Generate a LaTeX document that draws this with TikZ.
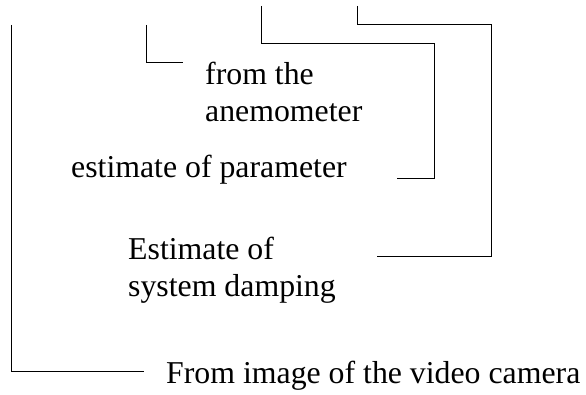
\documentclass[tikz,border=0pt]{standalone}
\usepackage{fontspec}
\setmainfont{Liberation Serif}
\usepackage{tikz}
\usetikzlibrary{calc}

\begin{document}
\begin{tikzpicture}[x=1pt, y=1pt,
		lbl/.style = {anchor=base west, inner sep=0pt, align=left,
			font=\fontsize{31.8}{37}\selectfont},
		wire/.style = {line width=1pt}]
			\def\W{586};
			\def\H{394};

			\useasboundingbox (0,0) rectangle (\W,\H);

			% labels (base = baseline of the last line)
			\node [lbl] (cam) at (166,11) {From image of the video camera};
			\node [lbl] (anemo) at (205,272) {from the\\anemometer};
			\node [lbl] (param) at (71,216) {estimate of parameter};
			\node [lbl] (damp) at (128,98) {Estimate of\\system damping};

			% open ends of the wires
			\coordinate (camIn) at (11,369);
			\coordinate (camOut) at (144,23);
			\coordinate (anemoIn) at (146,369);
			\coordinate (anemoOut) at (183,331);
			\coordinate (paramIn) at (261,388);
			\coordinate (paramOut) at (397,215);
			\coordinate (dampIn) at (357,388);
			\coordinate (dampOut) at (377,138);

			\begin{scope}[wire]
				\draw (camIn) |- (camOut);
				\draw (anemoIn) |- (anemoOut);
				\draw (paramIn) |- (434,350) |- (paramOut);
				\draw (dampIn) |- (491,369) |- (dampOut);
			\end{scope}
		\end{tikzpicture}
\end{document}
